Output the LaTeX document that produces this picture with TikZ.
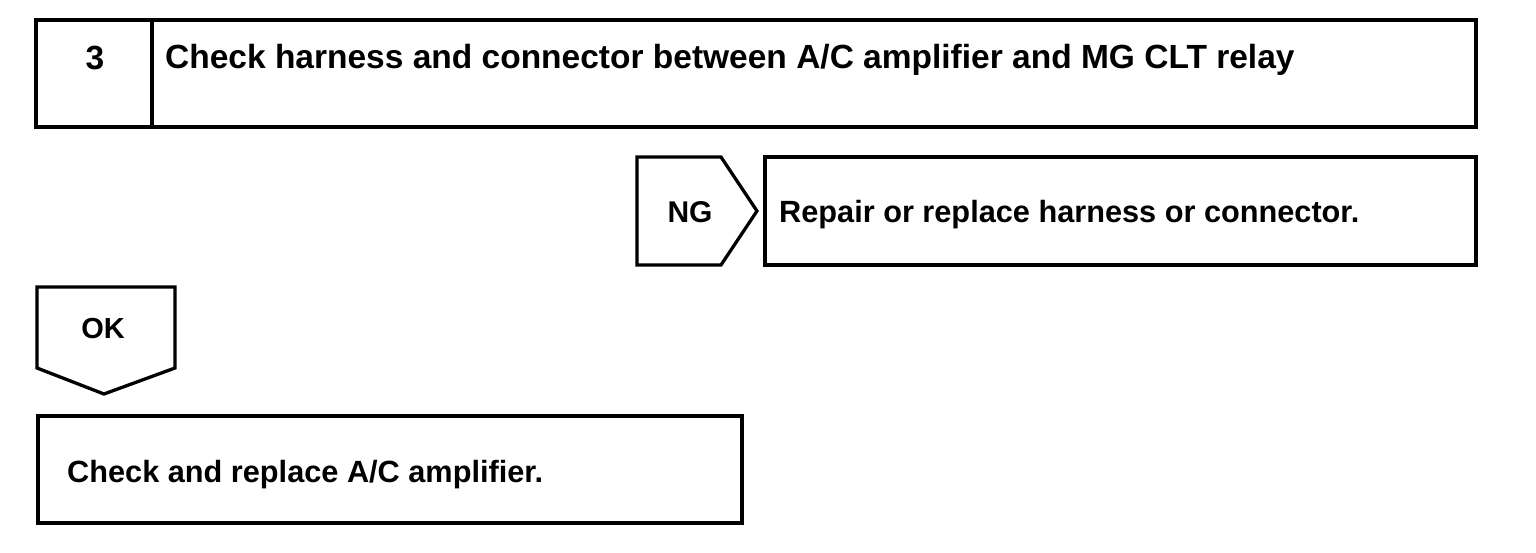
\documentclass[tikz,border=0pt]{standalone}
\usepackage{fontspec}
\setmainfont{Liberation Sans}
\begin{document}
\begin{tikzpicture}[x=1pt,y=-1pt,
  frame/.style={draw=black,line width=3.3pt,line join=miter},
  big/.style={font=\bfseries\fontsize{33.5}{38}\selectfont,inner sep=0pt},
  lbl/.style={font=\bfseries\fontsize{30.7}{36}\selectfont,inner sep=0pt,anchor=base west},
  tag/.style={font=\bfseries\fontsize{30}{36}\selectfont,inner sep=0pt,anchor=base}]
\useasboundingbox (0,0) rectangle (1536,552);
% step box
\draw[frame] (36,20) rectangle (1476,127);
\draw[frame] (152,20) -- (152,127);
\node[big,anchor=base] (num) at (95,69) {3};
\node[big,anchor=base west] (title) at (165,68) {Check harness and connector between A/C amplifier and MG CLT relay};
% NG
\draw[frame] (637,157) -- (721,157) -- (757,211) -- (721,265) -- (637,265) -- cycle;
\node[tag] (ng) at (690,222) {NG};
\draw[frame] (765,157) rectangle (1476,265);
\node[lbl] (repair) at (779,222) {Repair or replace harness or connector.};
% OK
\draw[frame] (37,287) -- (175,287) -- (175,368) -- (104,394) -- (37,368) -- cycle;
\node[tag,font=\bfseries\fontsize{29}{34}\selectfont] (ok) at (103,338) {OK};
\draw[frame] (38,416) rectangle (742,523);
\node[lbl] (replace) at (67,482) {Check and replace A/C amplifier.};
\end{tikzpicture}
\end{document}
